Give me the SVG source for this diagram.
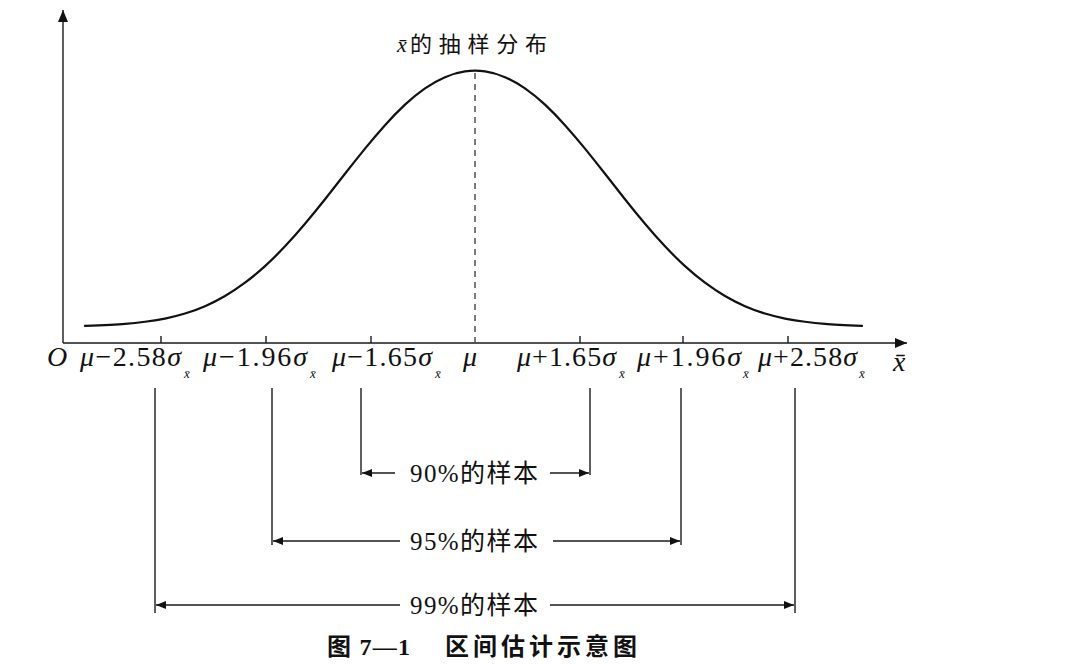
<svg xmlns="http://www.w3.org/2000/svg" width="1068" height="668" viewBox="0 0 1068 668">
<style>
.ln{stroke:#1a1a1a;stroke-width:1.4;fill:none}
.cv{stroke:#111;stroke-width:2.2;fill:none;stroke-linejoin:round;stroke-linecap:round}
.dash{stroke:#333;stroke-width:1.3;stroke-dasharray:6 5;fill:none}
.lbl{font-family:"Liberation Serif","Noto Sans CJK SC",serif;font-size:28px;fill:#111}
.it{font-style:italic}
.sub{font-family:"Liberation Serif",serif;font-style:italic;font-size:13px;fill:#111}
.cn{font-family:"Liberation Serif","Noto Sans CJK SC",serif;font-size:25px;fill:#111}
.ttl{font-family:"Liberation Serif","Noto Sans CJK SC",serif;font-size:22px;fill:#111}
.cap{font-family:"Liberation Serif","Noto Sans CJK SC",serif;font-size:24px;font-weight:bold;fill:#111}
</style>
<defs>
<marker id="ah" viewBox="0 0 10 8" refX="10" refY="4" markerWidth="10" markerHeight="8" markerUnits="userSpaceOnUse" orient="auto">
<path d="M0,0 L10,4 L0,8 z" fill="#111"/>
</marker>
<marker id="axh" viewBox="0 0 12 10" refX="12" refY="5" markerWidth="12" markerHeight="10" markerUnits="userSpaceOnUse" orient="auto">
<path d="M0,0 L12,5 L0,10 z" fill="#111"/>
</marker>
</defs>
<rect width="1068" height="668" fill="#fff"/>
<g id="axes">
<line class="ln" x1="63" y1="343" x2="63" y2="10" marker-end="url(#axh)"/>
<line class="ln" x1="63" y1="343" x2="907" y2="343" marker-end="url(#axh)"/>
<g id="ticks">
<line class="ln" x1="161" y1="336" x2="161" y2="343"/>
<line class="ln" x1="266" y1="336" x2="266" y2="343"/>
<line class="ln" x1="371" y1="336" x2="371" y2="343"/>
<line class="ln" x1="580" y1="336" x2="580" y2="343"/>
<line class="ln" x1="683" y1="336" x2="683" y2="343"/>
<line class="ln" x1="788" y1="336" x2="788" y2="343"/>
</g>
</g>
<g id="curve">
<path class="cv" d="M85,325.9 Q115,324.6 125,323.8 Q135,323.0 145,321.75 Q155,320.5 165,318.55 Q175,316.6 185,313.55 Q195,310.5 205,306.15 Q215,301.8 225,295.95 Q235,290.1 245,282.65 Q255,275.2 265,266.1 Q275,257.0 285,246.35 Q295,235.7 305,223.8 Q315,211.9 325,199.25 Q335,186.6 345,173.8 Q355,161.0 365,148.65 Q375,136.3 385,125.15 Q395,114.0 405,104.65 Q415,95.3 425,88.35 Q435,81.4 445,77.15 Q455,72.9 465,71.45 Q475,70 485,71.45 Q495,72.9 505,77.15 Q515,81.4 525,88.35 Q535,95.3 545,104.65 Q555,114.0 565,125.15 Q575,136.3 585,148.65 Q595,161.0 605,173.8 Q615,186.6 625,199.25 Q635,211.9 645,223.8 Q655,235.7 665,246.35 Q675,257.0 685,266.1 Q695,275.2 705,282.65 Q715,290.1 725,295.95 Q735,301.8 745,306.15 Q755,310.5 765,313.55 Q775,316.6 785,318.55 Q795,320.5 805,321.75 Q815,323.0 825,323.8 Q835,324.6 862,325.9"/>
<line class="dash" x1="475" y1="73" x2="475" y2="342"/>
</g>
<g id="title">
<text class="ttl it" x="397" y="52">x̄</text>
<text class="ttl" x="410" y="52" textLength="137" lengthAdjust="spacing">的抽样分布</text>
</g>
<g id="axis-labels">
<text class="lbl it" x="47" y="366">O</text>
<text class="lbl" x="80" y="366" textLength="101" lengthAdjust="spacing"><tspan class="it">μ</tspan>−2.58<tspan class="it">σ</tspan></text>
<text class="sub" x="184" y="378">x̄</text>
<text class="lbl" x="203" y="366" textLength="104" lengthAdjust="spacing"><tspan class="it">μ</tspan>−1.96<tspan class="it">σ</tspan></text>
<text class="sub" x="310" y="378">x̄</text>
<text class="lbl" x="332" y="366" textLength="100" lengthAdjust="spacing"><tspan class="it">μ</tspan>−1.65<tspan class="it">σ</tspan></text>
<text class="sub" x="435" y="378">x̄</text>
<text class="lbl it" x="463" y="366">μ</text>
<text class="lbl" x="517" y="366" textLength="99" lengthAdjust="spacing"><tspan class="it">μ</tspan>+1.65<tspan class="it">σ</tspan></text>
<text class="sub" x="619" y="378">x̄</text>
<text class="lbl" x="637" y="366" textLength="104" lengthAdjust="spacing"><tspan class="it">μ</tspan>+1.96<tspan class="it">σ</tspan></text>
<text class="sub" x="743" y="378">x̄</text>
<text class="lbl" x="758" y="366" textLength="99" lengthAdjust="spacing"><tspan class="it">μ</tspan>+2.58<tspan class="it">σ</tspan></text>
<text class="sub" x="859" y="378">x̄</text>
<text class="lbl it" x="893" y="371">x̄</text>
</g>
<g id="connectors">
<line class="ln" x1="361" y1="388" x2="361" y2="475"/>
<line class="ln" x1="590" y1="388" x2="590" y2="475"/>
<line class="ln" x1="272" y1="388" x2="272" y2="545"/>
<line class="ln" x1="681" y1="388" x2="681" y2="545"/>
<line class="ln" x1="155" y1="388" x2="155" y2="613"/>
<line class="ln" x1="795" y1="388" x2="795" y2="613"/>
<line class="ln" x1="395" y1="473" x2="362" y2="473" marker-end="url(#ah)"/>
<line class="ln" x1="550" y1="473" x2="589" y2="473" marker-end="url(#ah)"/>
<line class="ln" x1="400" y1="541" x2="273" y2="541" marker-end="url(#ah)"/>
<line class="ln" x1="553" y1="541" x2="680" y2="541" marker-end="url(#ah)"/>
<line class="ln" x1="400" y1="605" x2="156" y2="605" marker-end="url(#ah)"/>
<line class="ln" x1="550" y1="605" x2="794" y2="605" marker-end="url(#ah)"/>
</g>
<g id="interval-labels">
<text class="cn" x="410" y="482" textLength="128" lengthAdjust="spacing">90%的样本</text>
<text class="cn" x="410" y="550" textLength="128" lengthAdjust="spacing">95%的样本</text>
<text class="cn" x="410" y="614" textLength="128" lengthAdjust="spacing">99%的样本</text>
</g>
<g id="caption">
<text class="cap" x="327" y="655" textLength="83" lengthAdjust="spacing">图 7—1</text>
<text class="cap" x="445" y="655" textLength="192" lengthAdjust="spacing">区间估计示意图</text>
</g>
</svg>
